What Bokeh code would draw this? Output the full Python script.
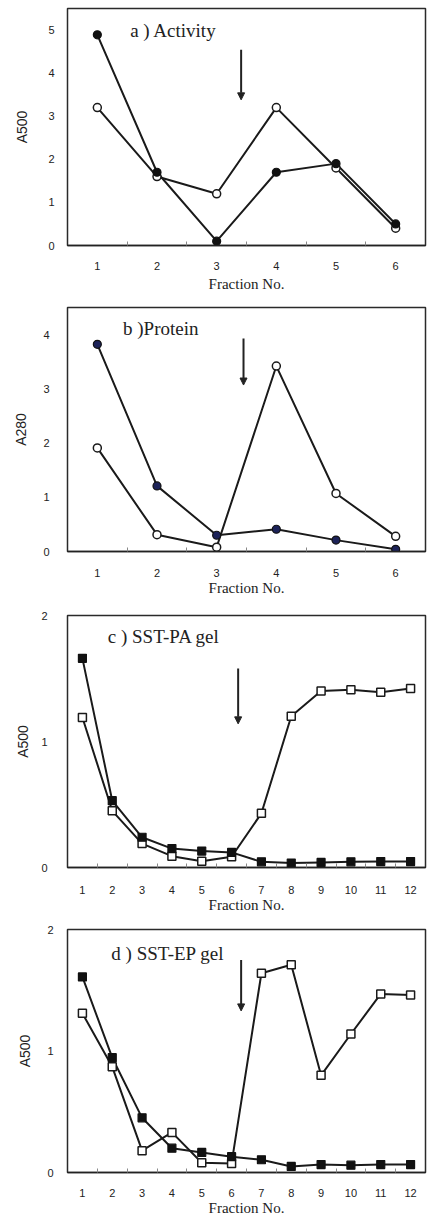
from bokeh.plotting import figure
from bokeh.layouts import column
from bokeh.models import Range1d, FixedTicker, Arrow, NormalHead, Label
from bokeh.embed import file_html
from bokeh.resources import INLINE

# ---------------- data ----------------
fractions_6 = [1, 2, 3, 4, 5, 6]
fractions_12 = [1, 2, 3, 4, 5, 6, 7, 8, 9, 10, 11, 12]

a_filled = [4.89, 1.70, 0.10, 1.70, 1.90, 0.50]
a_open = [3.20, 1.60, 1.20, 3.20, 1.80, 0.40]

b_filled = [3.82, 1.21, 0.30, 0.41, 0.21, 0.04]
b_open = [1.91, 0.31, 0.08, 3.42, 1.07, 0.28]

c_filled = [1.66, 0.53, 0.24, 0.15, 0.13, 0.12, 0.045, 0.035, 0.04, 0.045, 0.047, 0.047]
c_open = [1.19, 0.45, 0.19, 0.09, 0.05, 0.085, 0.43, 1.20, 1.40, 1.41, 1.39, 1.42]

d_filled = [1.61, 0.945, 0.45, 0.20, 0.165, 0.13, 0.105, 0.05, 0.065, 0.06, 0.065, 0.065]
d_open = [1.31, 0.87, 0.18, 0.33, 0.08, 0.075, 1.64, 1.71, 0.80, 1.14, 1.47, 1.46]

titles = ["a ) Activity", "b )Protein", "c ) SST-PA gel", "d ) SST-EP gel"]
y_labels = ["A500", "A280", "A500", "A500"]
x_label = "Fraction No."

SERIF = "'Liberation Serif', 'Times New Roman', serif"
SANS = "'Liberation Sans', Arial, sans-serif"

panels = [
    dict(x=fractions_6, filled=a_filled, open=a_open, marker="circle", fill="#111111",
         ymax=5.5, yticks=[0, 1, 2, 3, 4, 5], ylabel=y_labels[0], title=titles[0],
         tpos=(1.55, 5.0), arrow=(3.41, 4.54, 3.38),
         h=294, bt=8, bb=48, bl=67, ys=13, yals=15, xs=16, xals=3),
    dict(x=fractions_6, filled=b_filled, open=b_open, marker="circle", fill="#1c2258",
         ymax=4.5, yticks=[0, 1, 2, 3, 4], ylabel=y_labels[1], title=titles[1],
         tpos=(1.43, 4.11), arrow=(3.45, 3.93, 3.07),
         h=304, bt=13, bb=46, bl=64, ys=18, yals=11, xs=17, xals=0),
    dict(x=fractions_12, filled=c_filled, open=c_open, marker="square", fill="#111111",
         ymax=2.0, yticks=[0, 1, 2], ylabel=y_labels[2], title=titles[2],
         tpos=(1.85, 1.83), arrow=(6.22, 1.58, 1.14),
         h=317, bt=17, bb=47, bl=61, ys=20, yals=7, xs=18, xals=0),
    dict(x=fractions_12, filled=d_filled, open=d_open, marker="square", fill="#111111",
         ymax=2.0, yticks=[0, 1, 2], ylabel=y_labels[3], title=titles[3],
         tpos=(1.97, 1.80), arrow=(6.32, 1.75, 1.33),
         h=303, bt=14, bb=45, bl=59, ys=14, yals=11, xs=16, xals=0),
]

figs = []
for pn in panels:
    n = len(pn["x"])
    p = figure(width=427, height=pn["h"], output_backend="svg", toolbar_location=None,
               x_range=Range1d(0.5, n + 0.5), y_range=Range1d(0, pn["ymax"]),
               min_border_left=pn["bl"], min_border_right=2,
               min_border_top=pn["bt"], min_border_bottom=pn["bb"])
    p.grid.visible = False
    p.outline_line_color = "#2a2a2a"
    p.outline_line_width = 1.5
    p.background_fill_color = "white"
    p.border_fill_color = "white"

    xa = p.xaxis[0]
    xa.ticker = FixedTicker(ticks=list(pn["x"]), minor_ticks=[i + 0.5 for i in range(1, n)])
    xa.major_tick_line_color = None
    xa.major_tick_in = 0
    xa.major_tick_out = 0
    xa.minor_tick_in = 4
    xa.minor_tick_out = 0
    xa.minor_tick_line_color = "#888888"
    xa.axis_line_color = "#222222"
    xa.axis_line_width = 1.5
    xa.major_label_text_font = SANS
    xa.major_label_text_font_size = "11px"
    xa.major_label_text_color = "#222222"
    xa.major_label_standoff = pn["xs"]
    xa.axis_label = x_label
    xa.axis_label_text_font = SERIF
    xa.axis_label_text_font_size = "15px"
    xa.axis_label_text_font_style = "normal"
    xa.axis_label_text_color = "#222222"
    xa.axis_label_standoff = pn["xals"]

    ya = p.yaxis[0]
    ya.ticker = FixedTicker(ticks=pn["yticks"])
    ya.major_tick_line_color = None
    ya.major_tick_in = 0
    ya.major_tick_out = 0
    ya.minor_tick_line_color = None
    ya.minor_tick_in = 0
    ya.minor_tick_out = 0
    ya.axis_line_color = None
    ya.major_label_text_font = SANS
    ya.major_label_text_font_size = "11px"
    ya.major_label_text_color = "#222222"
    ya.major_label_standoff = pn["ys"]
    ya.axis_label = pn["ylabel"]
    ya.axis_label_text_font = SANS
    ya.axis_label_text_font_size = "14px"
    ya.axis_label_text_font_style = "normal"
    ya.axis_label_text_color = "#222222"
    ya.axis_label_standoff = pn["yals"]

    # series
    p.line(pn["x"], pn["open"], line_color="#1a1a1a", line_width=2)
    p.line(pn["x"], pn["filled"], line_color="#1a1a1a", line_width=2)
    p.scatter(pn["x"], pn["open"], marker=pn["marker"], size=8,
              fill_color="white", line_color="#1a1a1a", line_width=1.5)
    p.scatter(pn["x"], pn["filled"], marker=pn["marker"], size=8,
              fill_color=pn["fill"], line_color="#111111", line_width=1.2)

    # title inside plot
    tx, ty = pn["tpos"]
    p.add_layout(Label(x=tx, y=ty, text=pn["title"], text_font=SERIF,
                       text_font_size="19px", text_baseline="middle",
                       text_color="#222222"))
    # arrow
    ax, ay0, ay1 = pn["arrow"]
    p.add_layout(Arrow(end=NormalHead(size=7, fill_color="#222222", line_color="#222222"),
                       x_start=ax, y_start=ay0, x_end=ax, y_end=ay1,
                       line_color="#222222", line_width=2))
    figs.append(p)

layout = column(*figs, spacing=0)
open("out.html", "w").write(file_html(layout, INLINE))
